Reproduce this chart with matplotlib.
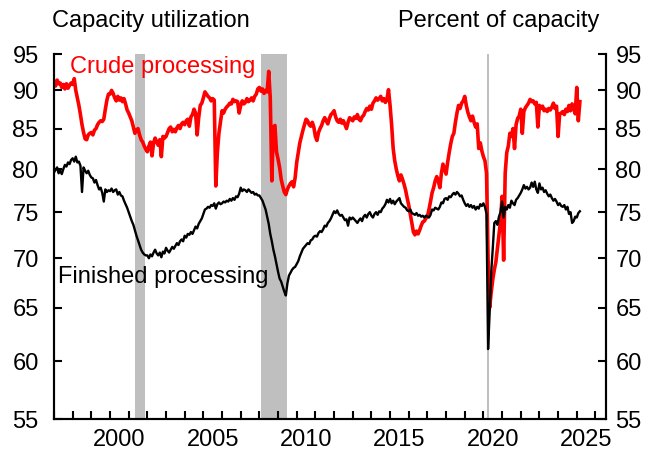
import numpy as np
import pandas as pd
import matplotlib
matplotlib.use('Agg')
from matplotlib import pyplot as plt
from matplotlib.ticker import FixedLocator, FixedFormatter, NullLocator

plt.rcParams['font.family'] = ['Liberation Sans', 'DejaVu Sans']

# monthly values, Jan 1997 onwards (percent of capacity)
first_month = '1997-01'
crude = [
    91.2, 90.6, 91.4, 90.9, 91.0, 90.4, 90.8, 90.2, 90.9, 90.3, 90.7, 91.0,  # 1997
    90.8, 91.6, 90.0, 89.0, 88.0, 86.8, 85.5, 84.5, 83.7, 83.6, 84.2, 84.4,  # 1998
    84.5, 84.2, 84.8, 85.0, 85.5, 85.8, 86.0, 85.9, 86.2, 87.5, 88.7, 89.5,  # 1999
    89.5, 90.0, 89.6, 89.0, 88.6, 89.2, 88.7, 89.0, 88.5, 88.9, 88.2, 87.4,  # 2000
    87.0, 86.5, 86.0, 85.2, 84.4, 84.8, 85.0, 84.2, 83.6, 83.3, 82.8, 82.4,  # 2001
    82.1, 82.8, 83.3, 81.6, 83.2, 83.8, 83.3, 82.9, 83.6, 81.5, 84.0, 83.8,  # 2002
    84.0, 84.5, 85.0, 85.2, 84.6, 84.9, 84.6, 85.1, 85.4, 85.0, 85.6, 85.8,  # 2003
    85.5, 86.0, 86.2, 85.3, 86.5, 86.8, 87.5, 87.0, 84.2, 86.4, 88.0, 88.3,  # 2004
    89.0, 89.8, 89.5, 89.2, 89.0, 88.6, 88.9, 88.7, 78.0, 82.0, 84.4, 85.8,  # 2005
    87.3, 87.0, 87.5, 87.8, 88.0, 88.3, 88.2, 88.8, 88.5, 88.6, 88.5, 87.0,  # 2006
    88.0, 88.6, 88.2, 88.4, 88.9, 88.5, 88.7, 89.0, 88.6, 89.2, 89.5, 90.2,  # 2007
    90.4, 89.9, 90.2, 89.6, 90.0, 89.8, 92.6, 89.0, 78.6, 85.2, 85.4, 82.1,  # 2008
    81.2, 80.2, 78.8, 78.0, 77.3, 77.0, 77.6, 78.0, 78.3, 78.5, 77.9, 79.0,  # 2009
    80.8, 82.0, 83.2, 84.0, 84.8, 85.5, 86.2, 86.0, 85.5, 85.3, 85.8, 85.2,  # 2010
    84.0, 83.5, 84.5, 85.0, 85.4, 86.0, 86.4, 86.0, 85.6, 86.3, 86.8, 87.0,  # 2011
    87.3, 86.5, 86.0, 85.8, 86.2, 85.7, 86.0, 85.5, 85.0, 85.8, 86.4, 86.2,  # 2012
    86.0, 86.5, 86.3, 86.8, 86.2, 86.0, 86.5, 86.7, 87.2, 87.6, 87.4, 87.9,  # 2013
    87.5, 88.3, 88.6, 89.0, 88.7, 88.9, 89.2, 88.6, 88.9, 88.4, 88.8, 90.1,  # 2014
    88.0, 85.5, 82.5, 81.0, 80.0, 79.2, 78.6, 79.3, 78.8, 78.2, 77.5, 76.6,  # 2015
    75.8, 74.8, 73.8, 72.8, 72.5, 72.9, 72.6, 73.0, 73.5, 73.9, 74.0, 74.3,  # 2016
    74.5, 75.3, 76.2, 77.2, 77.8, 78.6, 79.1, 78.6, 77.8, 79.5, 80.6, 80.0,  # 2017
    79.4, 80.8, 82.0, 83.1, 84.0, 84.4, 85.8, 87.0, 88.0, 87.6, 88.3, 88.6,  # 2018
    89.2, 88.0, 87.1, 86.5, 86.0, 86.6, 85.8, 85.2, 85.6, 82.5, 83.2, 82.2,  # 2019
    81.5, 81.0, 79.5, 70.0, 65.0, 66.5, 67.8, 68.8, 69.6, 71.0, 72.5, 74.0,  # 2020
    76.8, 69.8, 79.5, 82.0, 82.8, 84.4, 84.0, 85.0, 82.5, 85.5, 86.3, 86.6,  # 2021
    87.5, 84.4, 87.2, 87.7, 88.0, 88.3, 88.8, 88.5, 88.6, 88.2, 88.4, 85.2,  # 2022
    88.0, 87.6, 87.9, 87.3, 87.5, 87.2, 87.6, 87.4, 87.8, 88.3, 87.6, 87.9,  # 2023
    84.0, 86.9, 87.0, 87.2, 86.8, 87.5, 87.2, 88.0, 87.3, 88.2, 87.6, 86.9,  # 2024
    90.4, 86.0, 88.5,                                                        # 2025
]
finished = [
    79.6, 79.9, 80.2, 79.5, 79.8, 79.4, 80.0, 80.5, 80.3, 80.8, 80.6, 81.1,  # 1997
    81.3, 80.9, 81.5, 80.8, 80.9, 80.4, 77.3, 80.2, 79.8, 79.5, 79.8, 79.3,  # 1998
    79.0, 78.9, 78.4, 78.7, 78.1, 77.6, 77.8, 77.2, 76.2, 77.6, 77.3, 77.5,  # 1999
    77.4, 77.7, 77.3, 77.5, 77.6, 77.0, 77.3, 76.9, 76.8, 76.3, 75.9, 75.5,  # 2000
    75.0, 74.5, 74.0, 73.6, 73.0, 72.4, 71.9, 71.4, 70.9, 70.6, 70.4, 70.3,  # 2001
    70.3, 70.0, 70.4, 70.2, 70.6, 70.9, 70.5, 70.3, 70.6, 70.1, 70.7, 70.5,  # 2002
    71.1, 70.8, 70.6, 70.9, 71.2, 71.0, 71.3, 71.6, 71.4, 71.8, 72.0, 71.8,  # 2003
    72.4, 72.2, 72.6, 72.5, 72.8, 72.6, 73.0, 73.4, 73.2, 73.7, 74.0, 74.3,  # 2004
    74.8, 75.3, 75.4, 75.6, 75.5, 75.8, 75.7, 76.0, 75.4, 75.9, 76.1, 75.9,  # 2005
    76.0, 76.2, 76.1, 76.3, 76.2, 76.5, 76.3, 76.6, 76.4, 76.8, 76.7, 77.1,  # 2006
    77.8, 77.4, 77.6, 77.5, 77.3, 77.6, 77.4, 77.2, 77.3, 77.0, 77.1, 76.9,  # 2007
    76.9, 76.6, 76.3, 75.8, 75.3, 74.5, 73.7, 72.6, 71.8, 70.9, 70.2, 69.4,  # 2008
    68.6, 67.9, 67.6, 67.1, 66.6, 66.2, 67.4, 68.2, 68.5, 68.8, 69.0, 69.1,  # 2009
    69.4, 69.7, 70.2, 70.6, 71.0, 71.2, 71.4, 71.6, 71.5, 71.9, 72.0, 72.3,  # 2010
    72.4, 72.3, 72.7, 72.9, 72.8, 73.1, 73.5, 73.4, 73.8, 74.0, 74.3, 74.7,  # 2011
    75.1, 74.9, 75.2, 74.8, 74.6, 74.7, 74.4, 74.1, 74.2, 73.5, 74.4, 74.2,  # 2012
    74.4, 74.2, 74.0, 73.8, 74.1, 74.3, 74.0, 74.5, 74.7, 74.4, 74.8, 75.0,  # 2013
    74.6, 74.4, 74.8, 75.0, 74.7, 75.1, 75.0, 75.4, 75.6, 75.9, 76.4, 76.1,  # 2014
    76.5, 76.0, 76.3, 75.9, 76.2, 76.4, 76.6, 76.0, 75.8, 75.6, 75.5, 75.2,  # 2015
    75.1, 75.3, 74.9, 74.8, 74.7, 74.9, 74.6, 74.7, 74.5, 74.6, 74.4, 74.6,  # 2016
    74.5, 74.4, 74.7, 75.3, 75.2, 75.5, 75.4, 75.3, 75.6, 76.1, 76.0, 76.5,  # 2017
    76.6, 76.4, 76.8, 76.7, 77.0, 77.2, 77.0, 77.3, 77.1, 76.8, 76.9, 76.4,  # 2018
    76.0, 75.7, 75.9, 75.6, 75.8, 75.5, 75.7, 75.3, 75.6, 75.4, 75.9, 75.7,  # 2019
    76.0, 75.6, 74.8, 61.1, 64.5, 68.5, 71.0, 73.8, 74.0, 73.6, 74.5, 75.0,  # 2020
    76.2, 74.4, 75.6, 75.3, 75.8, 75.5, 76.3, 76.0, 75.8, 76.4, 76.6, 76.9,  # 2021
    77.2, 77.6, 78.1, 77.7, 77.9, 77.6, 77.8, 78.4, 77.9, 78.5, 77.6, 77.2,  # 2022
    78.3, 77.6, 77.8, 77.3, 77.5, 77.1, 76.8, 77.0, 76.6, 76.3, 76.5, 76.2,  # 2023
    75.8, 76.0, 75.7, 75.6, 75.8, 75.3, 75.6, 74.8, 75.0, 73.8, 74.0, 74.5,  # 2024
    74.4, 74.9, 75.1,                                                        # 2025
]

# recession shading (decimal years)
rec_start = [2001.33, 2008.1, 2020.2]
rec_end = [2001.9, 2009.5, 2020.28]

y_ticks = [55, 60, 65, 70, 75, 80, 85, 90, 95]
label_years = [2000, 2005, 2010, 2015, 2020, 2025]

dates = pd.date_range(first_month, periods=len(crude), freq='MS')
x = dates.year + (dates.month - 1) / 12

fig = plt.figure(figsize=(6.55, 4.5), dpi=100)
ax = fig.add_axes([54 / 655, 1 - 419.3 / 450, 551.7 / 655, 365 / 450])

for a, b in zip(rec_start, rec_end):
    ax.axvspan(a, b, color='#bfbfbf', lw=0, zorder=0)

ax.plot(x, crude, color='#ff0000', lw=2.6, zorder=2)
ax.plot(x, finished, color='black', lw=1.7, zorder=3)

ax.set_xlim(1997, 2026.55)
ax2 = ax.twinx()
for a in (ax, ax2):
    a.set_yscale('log')
    a.set_ylim(55, 95)
    a.yaxis.set_major_locator(FixedLocator(y_ticks))
    a.yaxis.set_major_formatter(FixedFormatter([str(t) for t in y_ticks]))
    a.yaxis.set_minor_locator(NullLocator())
    a.spines['top'].set_visible(False)
    for s in a.spines.values():
        s.set_linewidth(1.5)

ax.xaxis.set_major_locator(FixedLocator(range(1997, 2027)))
ax.xaxis.set_minor_locator(FixedLocator([y + 0.5 for y in label_years]))
ax.xaxis.set_major_formatter(FixedFormatter([''] * 30))
ax.xaxis.set_minor_formatter(FixedFormatter([str(y) for y in label_years]))
ax.tick_params(axis='x', which='major', direction='in', length=6, width=1.5)
ax.tick_params(axis='x', which='minor', length=0, labelsize=17, pad=7)
ax.tick_params(axis='y', direction='in', length=6, width=1.5, labelsize=17, pad=11)
ax2.tick_params(axis='y', direction='in', length=6, width=1.5, labelsize=17, pad=7)

fig.text(52 / 655, 1 - 21 / 450, 'Capacity utilization', fontsize=17, va='center', ha='left')
fig.text(599 / 655, 1 - 21 / 450, 'Percent of capacity', fontsize=17, va='center', ha='right')
fig.text(70 / 655, 1 - 67.5 / 450, 'Crude processing', fontsize=17, color='#ff0000', va='center', ha='left')
fig.text(58 / 655, 1 - 277.5 / 450, 'Finished processing', fontsize=17, color='black', va='center', ha='left')

fig.savefig('out.png', dpi=100)
